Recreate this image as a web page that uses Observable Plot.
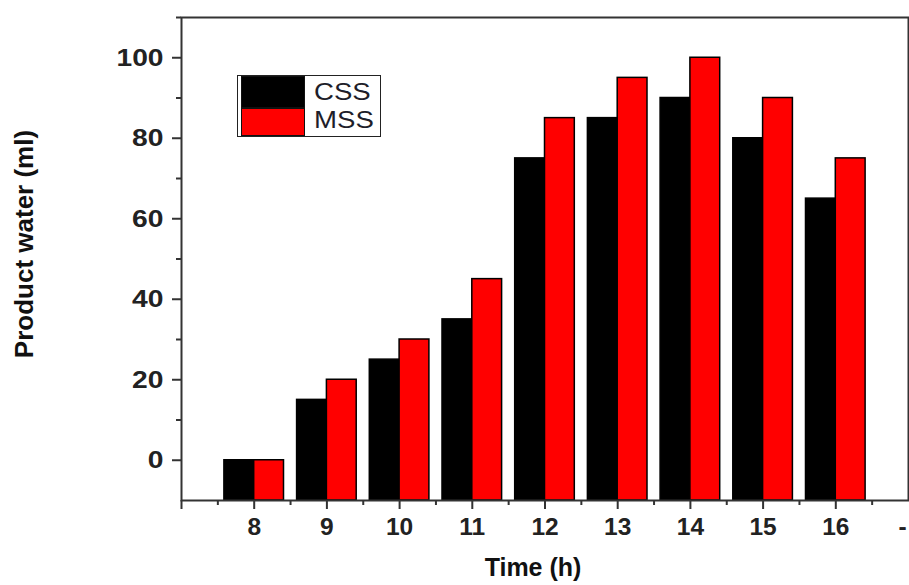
<!DOCTYPE html>
<html>
<head>
<meta charset="utf-8">
<script src="https://cdn.jsdelivr.net/npm/d3@7"></script>
<script src="https://cdn.jsdelivr.net/npm/@observablehq/plot@0.6"></script>
<style>
  html, body { margin: 0; padding: 0; background: #fff; }
  #wrap { position: relative; width: 909px; height: 585px; font-family: "Liberation Sans", Arial, sans-serif; }
  #legend { position: absolute; left: 237px; top: 75px; width: 144px; height: 62px; border: 1.5px solid #222; background: #fff; box-sizing: border-box; }
  .sw { position: absolute; left: 3px; width: 64px; box-sizing: border-box; border: 1.5px solid #111; }
  .lt { position: absolute; left: 76px; font-size: 23px; color: #1e1e2a; transform: scaleX(1.2); transform-origin: left center; line-height: 1; }
</style>
</head>
<body>
<div id="wrap">
  <div id="chart"></div>
  <div id="legend">
    <div class="sw" style="top:0px;height:32px;background:#000;"></div>
    <div class="sw" style="top:32px;height:28px;background:#ff0000;"></div>
    <div class="lt" style="top:5px;">CSS</div>
    <div class="lt" style="top:33px;">MSS</div>
  </div>
</div>
<script>
const hours = [8, 9, 10, 11, 12, 13, 14, 15, 16];
const cssValues = [0, 15, 25, 35, 75, 85, 90, 80, 65];
const mssValues = [0, 20, 30, 45, 85, 95, 100, 90, 75];
const xMajorTicks = [7, 8, 9, 10, 11, 12, 13, 14, 15, 16];
const xMinorTicks = [7.5, 8.5, 9.5, 10.5, 11.5, 12.5, 13.5, 14.5, 15.5, 16.5];
const yMajorTicks = [0, 20, 40, 60, 80, 100];
const yMinorTicks = [10, 30, 50, 70, 90, 110];

const data = hours.map((t, i) => ({ t, css: cssValues[i], mss: mssValues[i] }));
const halfW = 0.41;
const base = -10;

const plot = Plot.plot({
  width: 909,
  height: 585,
  marginLeft: 181,
  marginRight: 1,
  marginTop: 17,
  marginBottom: 85,
  style: { fontFamily: "Liberation Sans, Arial, sans-serif", fontSize: "24.5px", fontWeight: "bold", color: "#222", overflow: "visible", background: "#fff" },
  x: { domain: [7, 17] },
  y: { domain: [-10, 110] },
  marks: [
    Plot.rectY(data, { x1: d => d.t - halfW, x2: d => d.t, y1: base, y2: d => d.css, fill: "#000", stroke: "#000", strokeWidth: 1.5 }),
    Plot.rectY(data, { x1: d => d.t, x2: d => d.t + halfW, y1: base, y2: d => d.mss, fill: "#ff0000", stroke: "#000", strokeWidth: 1.5 }),
    Plot.frame({ stroke: "#333", strokeWidth: 2 }),
    Plot.axisX({ ticks: xMajorTicks, tickSize: 9, tickPadding: 8, strokeWidth: 2, stroke: "#333", tickFormat: d => d === 7 ? "" : String(d), label: null }),
    Plot.axisX({ ticks: xMinorTicks, tickSize: 5, strokeWidth: 2, stroke: "#333", tickFormat: () => "", label: null }),
    Plot.axisX({ ticks: [17], tickSize: 0, tickPadding: 17, dx: -6, tickFormat: () => "-", label: null }),
    Plot.axisY({ ticks: yMajorTicks, tickSize: 9, tickPadding: 9, strokeWidth: 2, stroke: "#333", label: null }),
    Plot.axisY({ ticks: yMinorTicks, tickSize: 5, strokeWidth: 2, stroke: "#333", tickFormat: () => "", label: null }),
    Plot.text(["Time (h)"], { frameAnchor: "bottom", dx: -12, dy: 75, fontSize: 25, fontWeight: "bold", fill: "#111" }),
    Plot.text(["Product water (ml)"], { frameAnchor: "left", textAnchor: "middle", lineAnchor: "middle", rotate: -90, dx: -157, dy: -15, fontSize: 26, fontWeight: "bold", fill: "#111" })
  ]
});
document.getElementById("chart").appendChild(plot);

// widen y tick labels slightly to match the reference's stretched glyphs
plot.querySelectorAll("g[aria-label='y-axis tick label'] text").forEach(t => {
  const w = t.getComputedTextLength();
  if (w > 0) { t.setAttribute("textLength", (w * 1.15).toFixed(1)); t.setAttribute("lengthAdjust", "spacingAndGlyphs"); }
});
</script>
</body>
</html>
